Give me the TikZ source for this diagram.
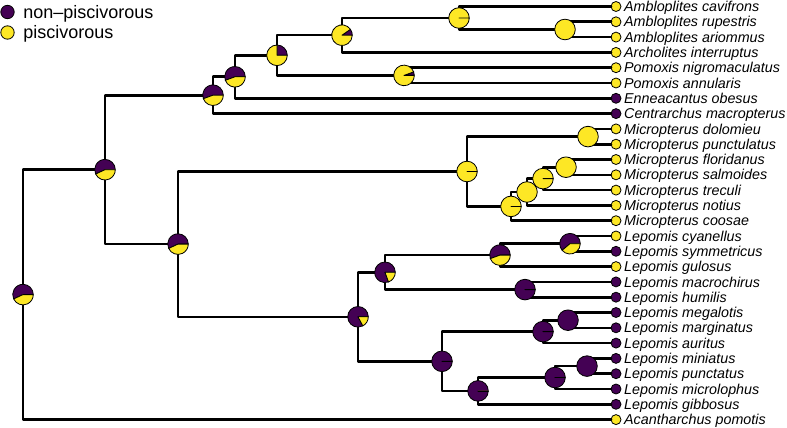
\documentclass[tikz,border=0pt]{standalone}
\usepackage{fontspec}
\setmainfont{Liberation Sans}
\usepackage{tikz}
\usetikzlibrary{
  positioning,
  calc
}
\definecolor{NonPisc}{RGB}{68,1,84}
\definecolor{Pisc}{RGB}{253,231,37}
\newcommand{\pieradius}{10.3pt}
\tikzset{
  branch/.style={line width=2.6pt,line join=round,line cap=round,draw=black},
  tipbase/.style={circle,draw=black,line width=0.8pt,minimum size=10pt,inner sep=0pt,outer sep=0pt},
  tipnp/.style={tipbase,fill=NonPisc},
  tippi/.style={tipbase,fill=Pisc},
  tiplabel/.style={anchor=west,inner sep=0pt,text height=10.2pt,text depth=0pt,font=\itshape\fontsize{14.3}{15}\selectfont},
  legdot/.style={circle,draw=black,line width=0.8pt,minimum size=13.4pt,inner sep=0pt,outer sep=0pt},
  legtext/.style={anchor=west,inner sep=0pt,text height=12.2pt,text depth=0pt,font=\fontsize{18}{20}\selectfont},
  piedge/.style={draw=black,line width=0.8pt,line join=round}
}
\newcommand{\statepie}[2]{%
  \filldraw[piedge,fill=NonPisc] (#1) -- ++(0:\pieradius) arc[start angle=0,end angle=#2,radius=\pieradius] -- cycle;
  \filldraw[piedge,fill=Pisc] (#1) -- ++(#2:\pieradius) arc[start angle=#2,end angle=360,radius=\pieradius] -- cycle;}
\newcommand{\solidpie}[2]{\filldraw[piedge,fill=#2] (#1) circle[radius=\pieradius];}

\begin{document}
\begin{tikzpicture}[x=1pt,y=1pt]
\useasboundingbox (0,0) rectangle (787,-428);

% legend
\node[legdot,fill=NonPisc] (legnp) at (7.5,-12) {};
\node[legdot,fill=Pisc] (legpi) at (7.5,-32.5) {};
\node[legtext,right=9pt of legnp] (legnptext) {non\textendash piscivorous};
\node[legtext,right=9pt of legpi] (legpitext) {piscivorous};

% tips
\node[tippi] (t1) at (616,-6.5) {};    \node[tiplabel,right=3pt of t1] {Ambloplites cavifrons};
\node[tippi] (t2) at (616,-21.8) {};   \node[tiplabel,right=3pt of t2] {Ambloplites rupestris};
\node[tippi] (t3) at (616,-37.1) {};   \node[tiplabel,right=3pt of t3] {Ambloplites ariommus};
\node[tippi] (t4) at (616,-52.4) {};   \node[tiplabel,right=3pt of t4] {Archolites interruptus};
\node[tippi] (t5) at (616,-67.7) {};   \node[tiplabel,right=3pt of t5] {Pomoxis nigromaculatus};
\node[tippi] (t6) at (616,-83.0) {};   \node[tiplabel,right=3pt of t6] {Pomoxis annularis};
\node[tipnp] (t7) at (616,-98.3) {};   \node[tiplabel,right=3pt of t7] {Enneacantus obesus};
\node[tipnp] (t8) at (616,-113.6) {};  \node[tiplabel,right=3pt of t8] {Centrarchus macropterus};
\node[tippi] (t9) at (616,-128.9) {};  \node[tiplabel,right=3pt of t9] {Micropterus dolomieu};
\node[tippi] (t10) at (616,-144.2) {}; \node[tiplabel,right=3pt of t10] {Micropterus punctulatus};
\node[tippi] (t11) at (616,-159.5) {}; \node[tiplabel,right=3pt of t11] {Micropterus floridanus};
\node[tippi] (t12) at (616,-174.8) {}; \node[tiplabel,right=3pt of t12] {Micropterus salmoides};
\node[tippi] (t13) at (616,-190.1) {}; \node[tiplabel,right=3pt of t13] {Micropterus treculi};
\node[tippi] (t14) at (616,-205.4) {}; \node[tiplabel,right=3pt of t14] {Micropterus notius};
\node[tippi] (t15) at (616,-220.7) {}; \node[tiplabel,right=3pt of t15] {Micropterus coosae};
\node[tippi] (t16) at (616,-236.0) {}; \node[tiplabel,right=3pt of t16] {Lepomis cyanellus};
\node[tipnp] (t17) at (616,-251.3) {}; \node[tiplabel,right=3pt of t17] {Lepomis symmetricus};
\node[tippi] (t18) at (616,-266.6) {}; \node[tiplabel,right=3pt of t18] {Lepomis gulosus};
\node[tipnp] (t19) at (616,-281.9) {}; \node[tiplabel,right=3pt of t19] {Lepomis macrochirus};
\node[tipnp] (t20) at (616,-297.2) {}; \node[tiplabel,right=3pt of t20] {Lepomis humilis};
\node[tipnp] (t21) at (616,-312.5) {}; \node[tiplabel,right=3pt of t21] {Lepomis megalotis};
\node[tipnp] (t22) at (616,-327.8) {}; \node[tiplabel,right=3pt of t22] {Lepomis marginatus};
\node[tipnp] (t23) at (616,-343.1) {}; \node[tiplabel,right=3pt of t23] {Lepomis auritus};
\node[tipnp] (t24) at (616,-358.4) {}; \node[tiplabel,right=3pt of t24] {Lepomis miniatus};
\node[tipnp] (t25) at (616,-373.7) {}; \node[tiplabel,right=3pt of t25] {Lepomis punctatus};
\node[tipnp] (t26) at (616,-389.0) {}; \node[tiplabel,right=3pt of t26] {Lepomis microlophus};
\node[tipnp] (t27) at (616,-404.3) {}; \node[tiplabel,right=3pt of t27] {Lepomis gibbosus};
\node[tippi] (t28) at (616,-419.6) {}; \node[tiplabel,right=3pt of t28] {Acantharchus pomotis};

% internal nodes
\coordinate (root) at (23,-294.6);
\coordinate (all) at (105,-169.7);
\coordinate (cent) at (213,-95.2);
\coordinate (ape) at (235,-76.8);
\coordinate (ap) at (277,-55.3);
\coordinate (aa) at (342,-35.2);
\coordinate (amb) at (459,-18.0);
\coordinate (ra) at (565,-29.5);
\coordinate (pom) at (404,-75.4);
\coordinate (mm) at (178,-244.1);
\coordinate (mic) at (467,-171.5);
\coordinate (dp) at (588,-136.6);
\coordinate (fstnc) at (511,-206.4);
\coordinate (fstn) at (527,-192.0);
\coordinate (fst) at (543,-178.6);
\coordinate (fs) at (566,-167.2);
\coordinate (lep) at (358,-316.8);
\coordinate (lep1) at (385,-272.3);
\coordinate (cyg) at (500,-255.1);
\coordinate (cs) at (570,-243.7);
\coordinate (mh) at (525,-289.6);
\coordinate (lep2) at (442,-361.3);
\coordinate (mma) at (543,-331.6);
\coordinate (mm2) at (568,-320.2);
\coordinate (mmg) at (478,-390.9);
\coordinate (mmm) at (555,-377.5);
\coordinate (mp) at (587,-366.1);

% branches
\draw[branch] (all) -| (root) |- (t28);
\draw[branch] (cent) -| (all) |- (mm);
\draw[branch] (ape) -| (cent) |- (t8);
\draw[branch] (ap) -| (ape) |- (t7);
\draw[branch] (aa) -| (ap) |- (pom);
\draw[branch] (amb) -| (aa) |- (t4);
\draw[branch] (t1) -| (amb) |- (ra);
\draw[branch] (t2) -| (ra) |- (t3);
\draw[branch] (t5) -| (pom) |- (t6);
\draw[branch] (mic) -| (mm) |- (lep);
\draw[branch] (dp) -| (mic) |- (fstnc);
\draw[branch] (t9) -| (dp) |- (t10);
\draw[branch] (fstn) -| (fstnc) |- (t15);
\draw[branch] (fst) -| (fstn) |- (t14);
\draw[branch] (fs) -| (fst) |- (t13);
\draw[branch] (t11) -| (fs) |- (t12);
\draw[branch] (lep1) -| (lep) |- (lep2);
\draw[branch] (cyg) -| (lep1) |- (mh);
\draw[branch] (cs) -| (cyg) |- (t18);
\draw[branch] (t16) -| (cs) |- (t17);
\draw[branch] (t19) -| (mh) |- (t20);
\draw[branch] (mma) -| (lep2) |- (mmg);
\draw[branch] (mm2) -| (mma) |- (t23);
\draw[branch] (t21) -| (mm2) |- (t22);
\draw[branch] (mmm) -| (mmg) |- (t27);
\draw[branch] (mp) -| (mmm) |- (t26);
\draw[branch] (t24) -| (mp) |- (t25);

% ancestral state pies
\statepie{root}{205}
\statepie{all}{205}
\statepie{mm}{205}
\statepie{cent}{200}
\statepie{ape}{200}
\statepie{ap}{90}
\statepie{aa}{35}
\statepie{amb}{0}
\solidpie{ra}{Pisc}
\statepie{pom}{20}
\statepie{mic}{0}
\solidpie{dp}{Pisc}
\statepie{fstnc}{0}
\solidpie{fstn}{Pisc}
\statepie{fst}{0}
\solidpie{fs}{Pisc}
\statepie{lep}{298}
\statepie{lep1}{290}
\statepie{cyg}{200}
\statepie{cs}{220}
\statepie{mh}{360}
\statepie{lep2}{360}
\statepie{mma}{360}
\solidpie{mm2}{NonPisc}
\statepie{mmg}{360}
\statepie{mmm}{360}
\solidpie{mp}{NonPisc}
\end{tikzpicture}
\end{document}
